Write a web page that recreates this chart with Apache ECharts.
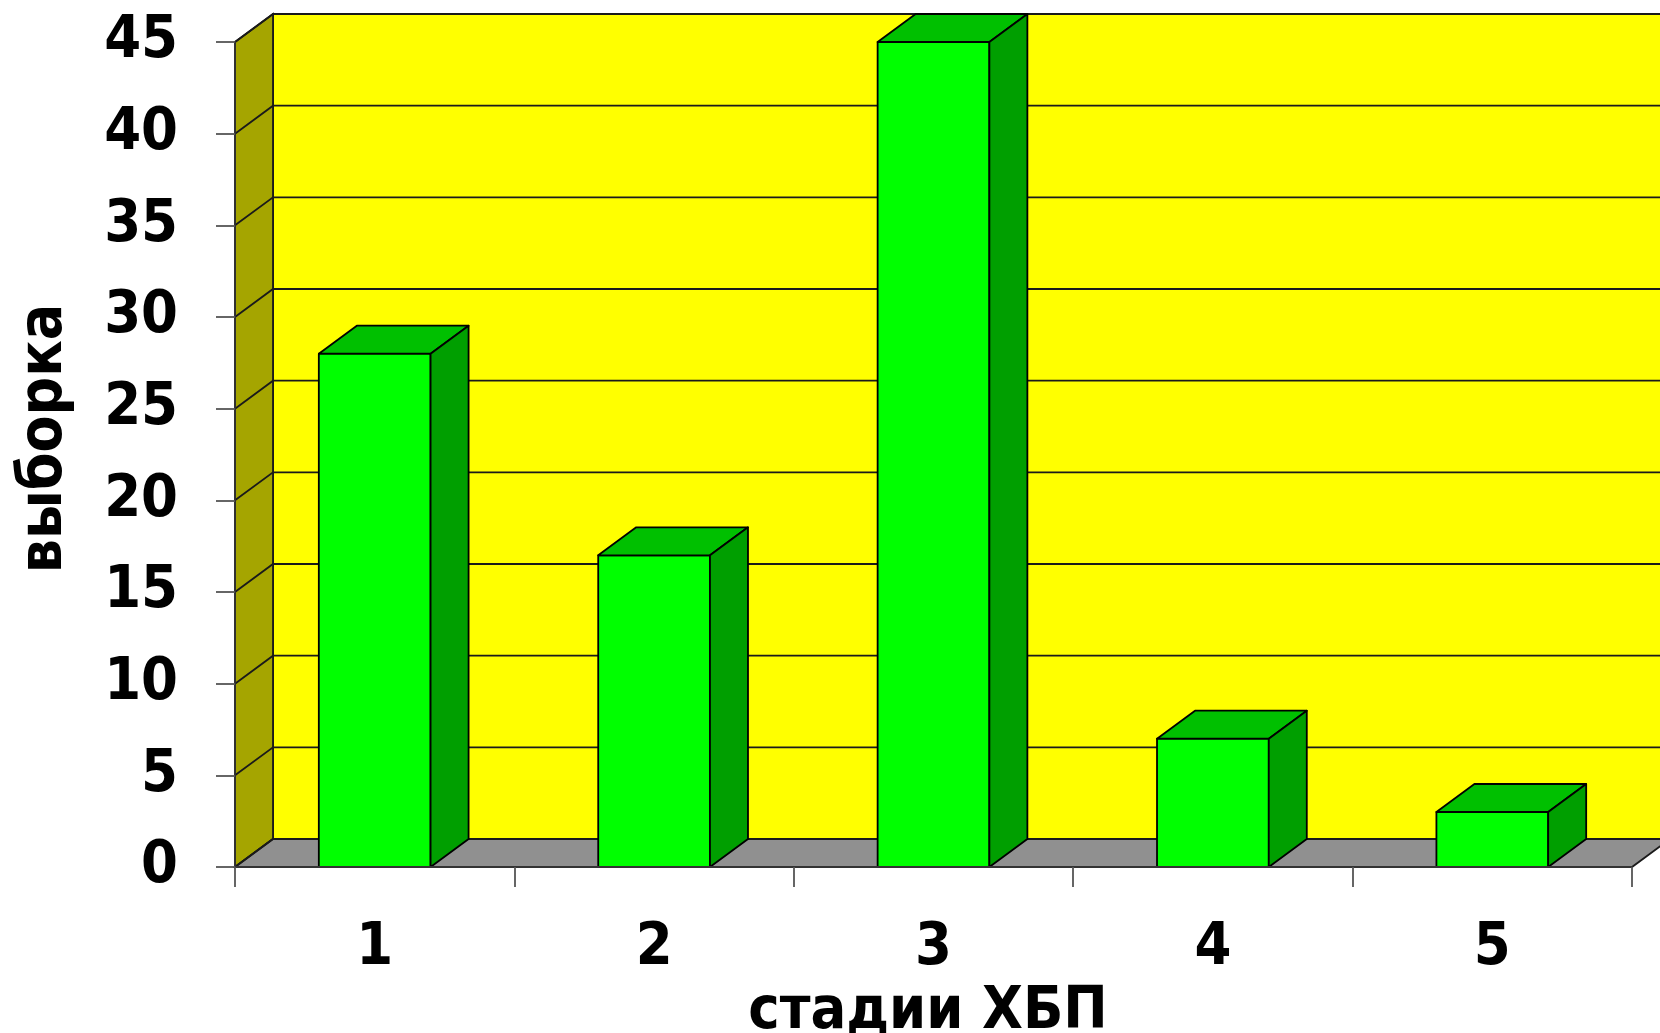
<!DOCTYPE html>
<html>
<head>
<meta charset="utf-8">
<script src="https://cdn.jsdelivr.net/npm/echarts@6/dist/echarts.min.js"></script>
<style>
  html, body { margin: 0; padding: 0; background: #ffffff; }
  #chart { width: 1660px; height: 1033px; }
</style>
</head>
<body>
<div id="chart"></div>
<script>
// Stages of chronic kidney disease and sample counts
const stages = ['1', '2', '3', '4', '5'];
const sampleCounts = [28, 17, 45, 7, 3];
const yTicks = [0, 5, 10, 15, 20, 25, 30, 35, 40, 45];

const FONT = "'DejaVu Sans Condensed', 'DejaVu Sans', sans-serif";
const DX = 38;   // depth offset to the right
const DY = -28;  // depth offset upwards
const EDGE = '#1a1a1a';

const chart = echarts.init(document.getElementById('chart'), null, { renderer: 'canvas' });

function renderWalls(params, api) {
  const cs = params.coordSys;
  const L = cs.x, R = cs.x + cs.width, T = cs.y, B = cs.y + cs.height;
  const children = [];
  // back wall
  children.push({
    type: 'polygon',
    shape: { points: [[L + DX, T + DY], [R + DX + 60, T + DY], [R + DX + 60, B + DY], [L + DX, B + DY]] },
    style: { fill: '#FFFF00', stroke: EDGE, lineWidth: 1.8 }
  });
  // side wall
  children.push({
    type: 'polygon',
    shape: { points: [[L, T], [L + DX, T + DY], [L + DX, B + DY], [L, B]] },
    style: { fill: '#A5A500', stroke: EDGE, lineWidth: 1.8 }
  });
  // floor
  children.push({
    type: 'polygon',
    shape: { points: [[L, B], [L + DX, B + DY], [R + DX, B + DY], [R, B]] },
    style: { fill: '#909090', stroke: EDGE, lineWidth: 1.8 }
  });
  // gridlines on both walls
  yTicks.forEach(function (v) {
    const y = api.coord([0, v])[1];
    children.push({
      type: 'polyline',
      shape: { points: [[L, y], [L + DX, y + DY], [R + DX + 60, y + DY]] },
      style: { fill: null, stroke: EDGE, lineWidth: 1.8 }
    });
  });
  return { type: 'group', children: children };
}

function renderBar(params, api) {
  const i = api.value(0);
  const v = api.value(1);
  const top = api.coord([i, v]);
  const base = api.coord([i, 0]);
  const band = api.size([1, 0])[0];
  const hw = band * 0.2;
  const x0 = top[0] - hw, x1 = top[0] + hw, yT = top[1], yB = base[1];
  const st = { stroke: '#000000', lineWidth: 1.8, lineJoin: 'round' };
  return {
    type: 'group',
    children: [
      { type: 'polygon', shape: { points: [[x0, yB], [x0, yT], [x1, yT], [x1, yB]] },
        style: Object.assign({ fill: '#00FF00' }, st) },
      { type: 'polygon', shape: { points: [[x0, yT], [x0 + DX, yT + DY], [x1 + DX, yT + DY], [x1, yT]] },
        style: Object.assign({ fill: '#00C000' }, st) },
      { type: 'polygon', shape: { points: [[x1, yT], [x1 + DX, yT + DY], [x1 + DX, yB + DY], [x1, yB]] },
        style: Object.assign({ fill: '#009F00' }, st) }
    ]
  };
}

chart.setOption({
  backgroundColor: '#ffffff',
  animation: false,
  grid: { left: 235, right: 28, top: 42, bottom: 166, containLabel: false, outerBoundsMode: 'none' },
  xAxis: {
    type: 'category',
    data: stages,
    z: 5,
    name: 'стадии ХБП',
    nameLocation: 'middle',
    nameGap: 135,
    nameTextStyle: { fontFamily: FONT, fontWeight: 'bold', fontSize: 59, color: '#000', verticalAlign: 'middle', padding: [0, 11, 0, 0] },
    axisLine: { show: true, lineStyle: { color: '#333', width: 1.8 } },
    axisTick: { show: true, alignWithLabel: false, length: 20, lineStyle: { color: '#555', width: 1.8 } },
    axisLabel: { fontFamily: FONT, fontWeight: 'bold', fontSize: 59, color: '#000', margin: 53, lineHeight: 58 },
    splitLine: { show: false }
  },
  yAxis: {
    type: 'value',
    min: 0,
    max: 45,
    interval: 5,
    z: 5,
    name: 'выборка',
    nameLocation: 'middle',
    nameGap: 190,
    nameRotate: 90,
    nameTextStyle: { fontFamily: FONT, fontWeight: 'bold', fontSize: 60, color: '#000', verticalAlign: 'middle', padding: [0, 0, 0, 32] },
    axisLine: { show: true, lineStyle: { color: '#333', width: 1.8 } },
    axisTick: { show: true, length: 19, lineStyle: { color: '#555', width: 1.8 } },
    axisLabel: { fontFamily: FONT, fontWeight: 'bold', fontSize: 59, color: '#000', margin: 57 },
    splitLine: { show: false }
  },
  series: [
    {
      type: 'custom',
      name: 'walls',
      renderItem: renderWalls,
      data: [[0, 0]],
      encode: { x: 0, y: 1 },
      silent: true,
      z: 1
    },
    {
      type: 'custom',
      name: 'выборка',
      renderItem: renderBar,
      data: sampleCounts.map(function (v, i) { return [i, v]; }),
      encode: { x: 0, y: 1 },
      z: 2
    }
  ]
});
</script>
</body>
</html>
